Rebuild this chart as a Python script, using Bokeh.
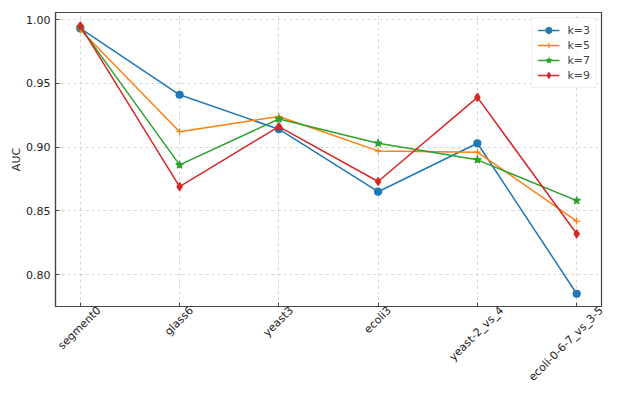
import math
from bokeh.plotting import figure
from bokeh.models import (FixedTicker, Range1d, Legend, LegendItem, NumeralTickFormatter,
                          LinearAxis)
from bokeh.embed import file_html
from bokeh.resources import INLINE

datasets = ["segment0", "glass6", "yeast3", "ecoli3", "yeast-2_vs_4", "ecoli-0-6-7_vs_3-5"]
k3 = [0.993, 0.941, 0.914, 0.865, 0.903, 0.785]
k5 = [0.992, 0.912, 0.924, 0.897, 0.896, 0.842]
k7 = [0.994, 0.886, 0.922, 0.903, 0.890, 0.858]
k9 = [0.995, 0.869, 0.916, 0.873, 0.939, 0.832]
series_names = ["k=3", "k=5", "k=7", "k=9"]
y_ticks = [0.80, 0.85, 0.90, 0.95, 1.00]

colors = ["#1f77b4", "#ff7f0e", "#2ca02c", "#d62728"]
markers = ["circle", "cross", "star", "diamond"]
sizes = [7, 7, 8, 8]

FONT = "DejaVu Sans"
FS = 11
xs = list(range(len(datasets)))

X0, X1 = -0.25, len(datasets) - 0.75
Y0, Y1 = 0.775, 1.0055
W, H = 630, 393
BL, BR, BT, BB = 55, 29, 12, 87
frame_w = W - BL - BR

p = figure(width=W, height=H, output_backend="svg", toolbar_location=None,
           x_range=Range1d(X0, X1), y_range=Range1d(Y0, Y1),
           min_border_left=BL, min_border_right=BR, min_border_top=BT, min_border_bottom=BB)
p.background_fill_color = "white"
p.border_fill_color = "white"
p.outline_line_color = "#444444"
p.outline_line_width = 1.2

items = []
for name, vals, c, m, s in zip(series_names, [k3, k5, k7, k9], colors, markers, sizes):
    r1 = p.line(xs, vals, line_color=c, line_width=1.5)
    r2 = p.scatter(xs, vals, marker=m, size=s, fill_color=c, line_color=c, line_width=1.2)
    items.append(LegendItem(label=name, renderers=[r1, r2]))

legend = Legend(items=items, location="top_right")
legend.label_text_font = FONT
legend.label_text_font_size = f"{FS}px"
legend.border_line_color = "#dddddd"
legend.border_line_width = 1
legend.glyph_width = 22
legend.glyph_height = 14
legend.label_height = 14
legend.spacing = 1
legend.padding = 5
legend.margin = 5
legend.label_standoff = 8
p.add_layout(legend)

# main x axis: integer ticks, inward tick marks, no labels
p.xaxis.ticker = FixedTicker(ticks=xs)
p.xaxis.major_label_overrides = {i: "" for i in xs}
p.xaxis.major_label_standoff = 0
p.xaxis.major_label_text_font_size = "1px"

# label axis: rotated names centred under their ticks (matplotlib style);
# anchors must stay inside the frame, so the last one is clamped to the edge
CW = {"s": 5.21, "e": 6.15, "g": 6.35, "m": 9.74, "n": 6.34, "t": 3.92, "l": 2.78, "a": 6.13,
      "y": 5.92, "c": 5.50, "o": 6.12, "i": 2.78, "-": 3.61, "_": 5.0, "v": 5.92}
px_per_unit = frame_w / (X1 - X0)
label_ticks = []
for i, d in enumerate(datasets):
    L = sum(CW.get(ch, 6.36) for ch in d) * FS / 10
    t = i + 0.34 * L / px_per_unit
    label_ticks.append(round(min(t, X1 - 0.002), 4))
p.extra_x_ranges = {"labels": Range1d(X0, X1)}
lab_axis = LinearAxis(x_range_name="labels", ticker=FixedTicker(ticks=label_ticks),
                      major_label_overrides={t: d for t, d in zip(label_ticks, datasets)},
                      major_label_orientation=math.pi / 4,
                      axis_line_color=None, major_tick_line_color=None,
                      minor_tick_line_color=None, major_tick_in=0, major_tick_out=0,
                      major_label_standoff=2)
lab_axis.major_label_text_font = FONT
lab_axis.major_label_text_font_size = f"{FS}px"
lab_axis.major_label_text_color = "#222222"
p.add_layout(lab_axis, "below")

p.yaxis.ticker = FixedTicker(ticks=y_ticks)
p.yaxis.formatter = NumeralTickFormatter(format="0.00")
p.yaxis.axis_label = "AUC"
p.yaxis.axis_label_standoff = 0
p.yaxis.major_label_text_font = FONT
p.yaxis.major_label_text_font_size = f"{FS}px"
p.yaxis.major_label_text_color = "#222222"
p.yaxis.axis_label_text_font = FONT
p.yaxis.axis_label_text_font_size = f"{FS}px"
p.yaxis.axis_label_text_font_style = "normal"
p.yaxis.axis_label_text_color = "#222222"

for ax in [p.xaxis[0], p.yaxis[0]]:
    ax.major_tick_in = 4
    ax.major_tick_out = 0
    ax.minor_tick_in = 0
    ax.minor_tick_out = 0
    ax.axis_line_color = "#444444"
    ax.axis_line_width = 1.2
    ax.major_tick_line_color = "#444444"

p.grid.grid_line_color = "#cccccc"
p.grid.grid_line_dash = "3 3"
p.grid.grid_line_alpha = 0.8

open("out.html", "w").write(file_html(p, INLINE))
